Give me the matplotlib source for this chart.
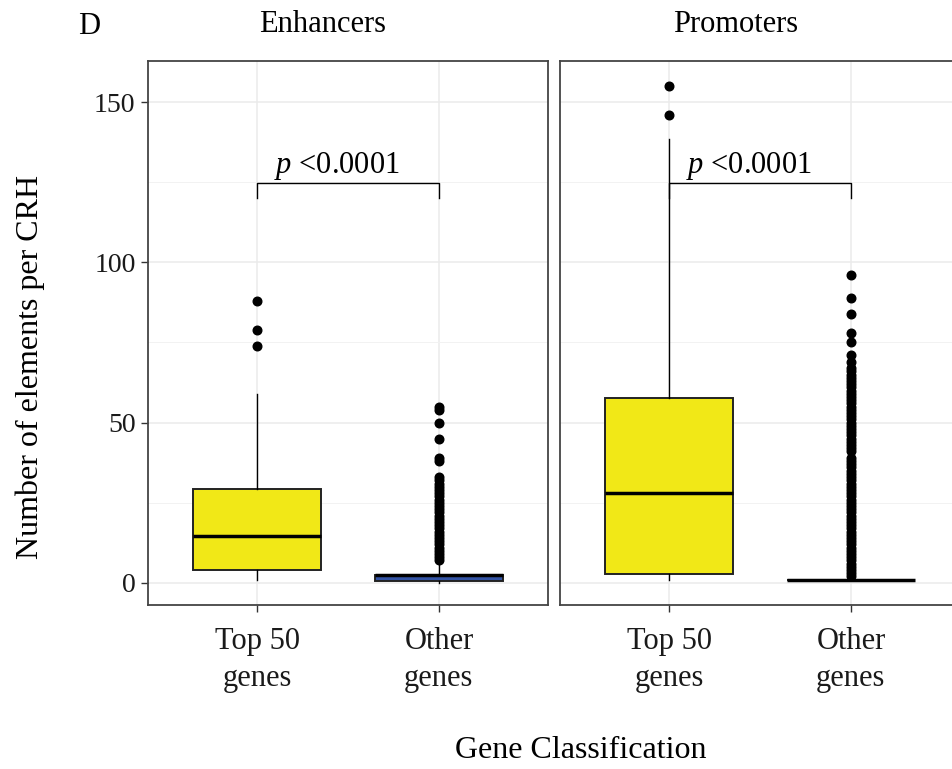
import matplotlib
matplotlib.use("Agg")
import matplotlib.pyplot as plt

plt.rcParams["font.family"] = ["Liberation Serif", "DejaVu Serif"]
plt.rcParams["mathtext.fontset"] = "custom"
plt.rcParams["mathtext.rm"] = "Liberation Serif"
plt.rcParams["mathtext.it"] = "Liberation Serif:italic"

# Facets and groups
panels = ["Enhancers", "Promoters"]
groups = ["Top 50\ngenes", "Other\ngenes"]

# Box summaries per facet: [Top 50, Other]
enh_q1 = [4, 0.7]
enh_med = [14.7, 2.6]
enh_q3 = [29.3, 2.6]
enh_lo = [1, 0]
enh_hi = [59, 6]
enh_top_fliers = [74, 79, 88]
enh_other_fliers = [7, 8, 9, 10, 11, 12, 13, 14, 15, 16, 17, 18, 19, 20,
                    21, 22, 23, 24, 25, 26, 27, 28, 29, 30, 31, 32, 33,
                    38, 39, 45, 50, 54, 55]

pro_q1 = [2.8, 1]
pro_med = [28, 1]
pro_q3 = [57.7, 1]
pro_lo = [1, 1]
pro_hi = [138.5, 1]
pro_top_fliers = [146, 155]
pro_other_fliers = [2, 3, 4, 5, 6, 7, 8, 9, 10, 11, 12, 13, 14, 15, 16, 17,
                    18, 19, 20, 21, 22, 23, 24, 25, 26, 27, 28, 29, 30, 31,
                    32, 33, 34, 35, 36, 37, 38, 39, 41, 42, 43, 44, 45, 46,
                    47, 48, 49, 50, 51, 52, 53, 54, 55, 56, 57, 58, 59, 60,
                    61, 62, 63, 64, 65, 66, 67, 69, 71, 75, 78, 84, 89, 96]

box_fill = {"Enhancers": ["#f1e817", "#3454a4"],
            "Promoters": ["#f1e817", "#ffffff"]}

# Significance bracket: height of bar, tick bottom, label
bracket_y = 124.7
bracket_tick = 120
p_label = r"$\it{p}$ <0.0001"

yticks = [0, 50, 100, 150]
yminor = [25, 75, 125]

W, H = 953, 769
fig = plt.figure(figsize=(W / 100, H / 100), dpi=100)


def px_axes(x0, y0, x1, y1):
    return fig.add_axes([x0 / W, 1 - y1 / H, (x1 - x0) / W, (y1 - y0) / H])


ax_l = px_axes(148, 61, 548, 605)
ax_r = px_axes(560, 61, 960, 605)

stats = {
    "Enhancers": (enh_q1, enh_med, enh_q3, enh_lo, enh_hi,
                  [enh_top_fliers, enh_other_fliers]),
    "Promoters": (pro_q1, pro_med, pro_q3, pro_lo, pro_hi,
                  [pro_top_fliers, pro_other_fliers]),
}

for ax, name in zip([ax_l, ax_r], panels):
    q1, med, q3, lo, hi, fl = stats[name]
    bxp_stats = []
    for i in range(2):
        bxp_stats.append(dict(q1=q1[i], med=med[i], q3=q3[i],
                              whislo=lo[i], whishi=hi[i], fliers=fl[i]))
    bp = ax.bxp(bxp_stats, positions=[1, 2], widths=0.7, patch_artist=True,
                showcaps=False,
                boxprops=dict(edgecolor="#222222", linewidth=1.4),
                medianprops=dict(color="black", linewidth=2.5),
                whiskerprops=dict(color="black", linewidth=1.0),
                flierprops=dict(marker="o", markerfacecolor="black",
                                markeredgecolor="black", markersize=6.2,
                                linestyle="none"),
                zorder=3)
    for patch, c in zip(bp["boxes"], box_fill[name]):
        patch.set_facecolor(c)

    # bracket with p-value
    ax.plot([1, 1, 2, 2], [bracket_tick, bracket_y, bracket_y, bracket_tick],
            color="black", linewidth=1.0, zorder=4)
    ax.text(1.44, 128, p_label, ha="center", va="baseline", fontsize=22,
            color="black", zorder=5)

    ax.set_xlim(0.4, 2.6)
    ax.set_ylim(-6.9, 162.8)
    ax.set_xticks([1, 2])
    ax.set_xticklabels(groups, fontsize=22, color="#1a1a1a", linespacing=1.35)
    ax.set_yticks(yticks)
    ax.set_yticks(yminor, minor=True)
    ax.grid(True, which="major", color="#ebebeb", linewidth=1.1, zorder=0)
    ax.grid(True, which="minor", axis="y", color="#f2f2f2", linewidth=0.7,
            zorder=0)
    ax.set_axisbelow(True)
    ax.tick_params(axis="both", which="major", length=5, width=1.0,
                   color="#333333", pad=4)
    ax.tick_params(axis="x", which="major", pad=11)
    ax.tick_params(axis="y", which="minor", length=0)
    ax.tick_params(axis="y", labelsize=20, labelcolor="#1a1a1a")
    for sp in ax.spines.values():
        sp.set_color("#444444")
        sp.set_linewidth(1.3)

ax_r.tick_params(axis="y", which="both", left=False, labelleft=False)

# Strip labels, panel tag and axis titles
fig.text(323 / W, 1 - 25 / H, "Enhancers", ha="center", va="center",
         fontsize=22)
fig.text(736 / W, 1 - 25 / H, "Promoters", ha="center", va="center",
         fontsize=22)
fig.text(89 / W, 1 - 26 / H, "D", ha="center", va="center", fontsize=22)
fig.text(30 / W, 1 - 367 / H, "Number of elements per CRH", rotation=90,
         ha="center", va="center", fontsize=23)
fig.text(581 / W, 1 - 751 / H, "Gene Classification", ha="center",
         va="center", fontsize=23)

fig.savefig("out.png", dpi=100)
